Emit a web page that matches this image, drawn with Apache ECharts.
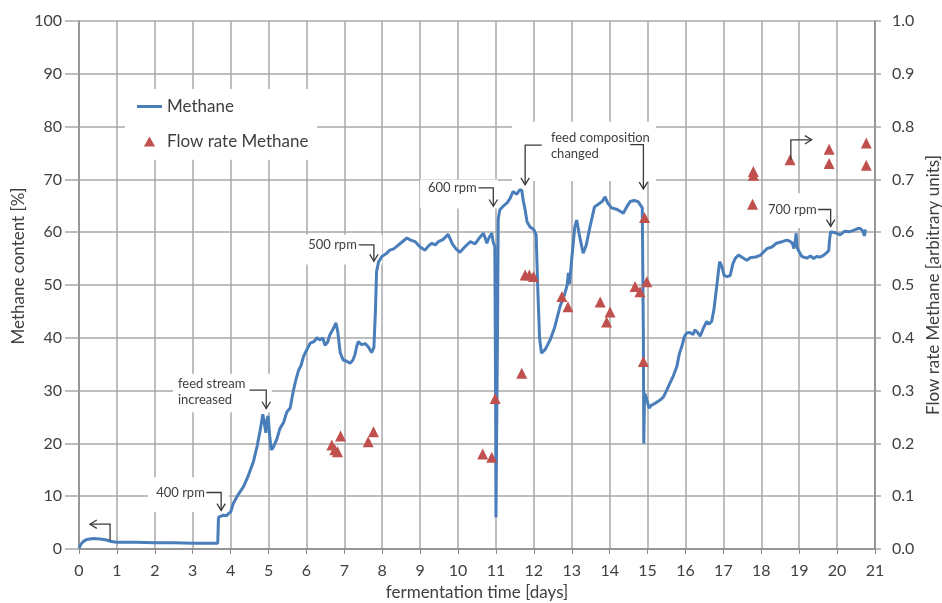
<!DOCTYPE html>
<html><head><meta charset="utf-8">
<script src="https://cdn.jsdelivr.net/npm/echarts@6/dist/echarts.min.js"></script>
<style>html,body{margin:0;padding:0;background:#fff}#c{width:942px;height:603px}</style>
</head><body><div id="c"></div>
<script>
// ---- data ----
const methaneDays = [0,0.05,0.11,0.2,0.38,0.55,0.73,0.85,1.0,1.5,2.0,2.5,3.0,3.4,3.66,3.68,3.72,3.81,3.9,3.94,4.0,4.07,4.2,4.34,4.45,4.6,4.7,4.78,4.85,4.9,4.93,4.96,4.99,5.03,5.07,5.12,5.22,5.3,5.4,5.48,5.57,5.65,5.72,5.79,5.86,5.92,6.0,6.1,6.2,6.28,6.36,6.43,6.49,6.56,6.62,6.7,6.78,6.83,6.89,6.97,7.05,7.15,7.22,7.28,7.33,7.37,7.45,7.55,7.63,7.72,7.78,7.82,7.85,7.9,7.99,8.1,8.2,8.29,8.4,8.5,8.65,8.75,8.87,9.0,9.13,9.22,9.31,9.4,9.48,9.6,9.74,9.85,9.95,10.05,10.15,10.32,10.45,10.55,10.67,10.72,10.76,10.82,10.89,10.93,10.97,10.99,11.0,11.02,11.04,11.06,11.1,11.2,11.3,11.38,11.45,11.55,11.62,11.68,11.72,11.77,11.82,11.9,12.0,12.06,12.1,12.15,12.2,12.3,12.43,12.55,12.69,12.8,12.88,12.91,12.94,13.0,13.08,13.13,13.2,13.3,13.38,13.48,13.6,13.7,13.8,13.88,13.95,14.05,14.2,14.36,14.45,14.54,14.65,14.75,14.8,14.86,14.89,14.9,14.92,14.96,15.0,15.04,15.1,15.2,15.33,15.42,15.5,15.59,15.68,15.77,15.84,15.9,15.97,16.03,16.12,16.2,16.25,16.32,16.39,16.47,16.56,16.62,16.69,16.75,16.82,16.9,16.96,17.02,17.1,17.18,17.25,17.31,17.4,17.5,17.62,17.72,17.85,17.97,18.08,18.15,18.28,18.4,18.55,18.67,18.75,18.82,18.86,18.9,18.92,18.95,19.0,19.07,19.2,19.3,19.38,19.46,19.55,19.64,19.72,19.78,19.8,19.83,19.95,20.08,20.2,20.34,20.45,20.55,20.61,20.68,20.72,20.75];
const methaneValues = [0.2,0.9,1.4,1.8,2.0,1.9,1.7,1.4,1.3,1.3,1.2,1.2,1.1,1.1,1.1,6.0,6.3,6.4,6.3,6.7,7.0,8.6,10.3,11.8,13.6,16.5,19.5,22.5,25.5,25.7,22.0,24.5,25.2,21.5,18.8,19.2,20.8,22.8,24.0,25.9,26.7,29.8,32.0,33.8,34.8,36.4,37.6,39.0,39.3,40.0,39.6,40.0,38.6,39.2,40.6,41.6,42.8,41.0,37.2,35.8,35.6,35.2,35.7,36.8,38.5,39.3,38.7,38.9,38.3,37.2,38.2,45,52.5,54.3,55.4,55.9,56.6,56.8,57.4,58.0,58.9,58.5,58.2,57.2,56.6,57.4,57.9,57.6,58.2,58.6,59.6,57.8,56.8,56.2,57.0,58.2,57.8,58.8,59.8,58.8,57.9,59.0,59.8,58.0,57.3,30,6.0,6.0,40,62.5,64.2,65.0,65.6,66.5,67.7,67.2,68.0,68.0,66.0,64.2,62.0,61.0,60.5,59.5,50,40,37.1,37.8,39.6,42.0,45.9,48.0,50.0,52.3,50.2,55,61,62.3,59.5,56.0,57.5,61.0,64.8,65.3,65.8,66.7,65.5,64.6,64.3,63.6,64.8,65.8,66.0,65.8,65.8,64.6,40,20.0,29.5,28.8,28.5,26.7,27.2,27.6,28.2,28.8,30.0,31.4,32.8,34.5,37.0,38.3,40.2,40.9,41.0,40.6,41.5,41.0,40.3,41.8,43.1,42.6,43.1,45.3,49.5,54.4,53.5,51.8,51.6,51.8,54.0,55.0,55.7,55.2,54.7,55.2,55.3,55.6,56.4,56.9,57.2,57.9,58.2,58.5,58.3,57.9,56.9,58.5,59.8,57.0,56.3,55.4,55.1,55.5,55.0,55.4,55.3,55.6,56.1,56.5,58.5,60.1,59.9,59.5,60.2,60.1,60.4,60.7,60.7,60.2,59.3,60.5];
const flowDays = [6.67,6.75,6.82,6.9,7.63,7.77,10.65,10.89,10.98,11.68,11.77,11.88,11.99,12.74,12.9,13.75,13.92,14.01,14.67,14.8,14.89,14.92,14.98,17.77,17.79,17.79,18.76,19.79,19.79,20.77,20.77];
const flowValues = [0.197,0.188,0.184,0.214,0.203,0.222,0.18,0.174,0.285,0.333,0.519,0.519,0.516,0.478,0.459,0.468,0.43,0.449,0.497,0.487,0.355,0.628,0.506,0.653,0.708,0.715,0.737,0.73,0.757,0.727,0.769];

// ---- annotations (in left-axis data coordinates) ----
const annotations = [
  {lines:['400 rpm'], at:[3.32,10.7], align:'right', path:[[3.36,10.7],[3.75,10.7],[3.75,7.3]]},
  {lines:['feed stream','increased'], at:[2.61,29.8], align:'left', path:[[4.5,30.1],[4.94,30.1],[4.94,26.6]]},
  {lines:['500 rpm'], at:[7.33,57.6], align:'right', path:[[7.38,57.6],[7.78,57.6],[7.78,54.5]]},
  {lines:['600 rpm'], at:[10.49,68.4], align:'right', path:[[10.54,68.4],[10.93,68.4],[10.93,64.9]]},
  {lines:['feed composition','changed'], at:[12.45,76.35], align:'left', path:[[12.21,76.5],[11.77,76.5],[11.77,69.0]]},
  {lines:[], at:null, path:[[14.54,76.6],[14.89,76.6],[14.89,68.2]]},
  {lines:['700 rpm'], at:[19.46,64.3], align:'right', path:[[19.5,64.3],[19.83,64.3],[19.83,61.1]]},
  {lines:[], at:null, path:[[0.82,1.6],[0.82,4.7],[0.29,4.7]]},
  {lines:[], at:null, path:[[18.78,73.7],[18.78,77.5],[19.33,77.5]]}
];
const masks = [
  [[1.21,87.1],[6.28,73.7]],
  [[1.82,13.6],[3.95,7.0]],
  [[2.48,33.2],[5.09,25.9]],
  [[5.6,59.5],[8.0,53.9]],
  [[9.0,70],[11.05,64.5]],
  [[11.42,80.9],[15.22,69.7]],
  [[18.1,67.4],[19.95,60.8]]
];

const FONT = 'Lato';
const TXT = '#404040';
const GRIDC = '#a8a8a8';
const AXC = '#8a8a8a';

const chart = echarts.init(document.getElementById('c'));
chart.setOption({
  animation:false,
  textStyle:{fontFamily:FONT},
  grid:{left:79,right:67,top:21,bottom:54,containLabel:false,outerBoundsMode:'none'},
  legend:{orient:'vertical',left:137,top:98,itemWidth:25,itemHeight:10,itemGap:18,padding:0,symbolKeepAspect:true,
    textStyle:{fontSize:17,color:TXT,fontFamily:FONT},
    data:[{name:'Methane',icon:'path://M0,0h25v3h-25z'},{name:'Flow rate Methane',icon:'path://M5,0L10,9L0,9Z'}]},
  xAxis:{type:'value',min:0,max:21,interval:1,name:'fermentation time [days]',nameLocation:'middle',nameGap:34,
    nameTextStyle:{fontSize:17,color:TXT,fontFamily:FONT},
    axisLine:{lineStyle:{color:AXC,width:1.5}},axisTick:{show:true,length:5,lineStyle:{color:AXC}},
    axisLabel:{fontSize:16,color:TXT,margin:14,fontFamily:FONT},
    splitLine:{show:true,lineStyle:{color:GRIDC,width:1.5}}},
  yAxis:[
    {type:'value',min:0,max:100,interval:10,position:'left',
     axisLine:{show:true,lineStyle:{color:AXC,width:1.5}},axisTick:{show:true,length:14,lineStyle:{color:GRIDC,width:1.5}},
     axisLabel:{fontSize:16,color:TXT,margin:17,fontFamily:FONT},
     splitLine:{show:true,lineStyle:{color:GRIDC,width:1.5}}},
    {type:'value',min:0,max:1,interval:0.1,position:'right',name:'Flow rate Methane [arbitrary units]',
     nameLocation:'middle',nameRotate:90,nameGap:48,nameTextStyle:{fontSize:17,color:TXT,fontFamily:FONT},
     axisLine:{show:true,lineStyle:{color:AXC,width:1.5}},axisTick:{show:true,length:6,lineStyle:{color:GRIDC,width:1.5}},
     axisLabel:{fontSize:16,color:TXT,margin:17,fontFamily:FONT,formatter:v=>v.toFixed(1)},
     splitLine:{show:false}}
  ],
  series:[
    {name:'Methane',type:'line',symbol:'none',showSymbol:false,z:3,
     data:methaneDays.map((d,i)=>[d,methaneValues[i]]),
     lineStyle:{color:'#4A7EBB',width:3},itemStyle:{color:'#4A7EBB'}},
    {name:'Flow rate Methane',type:'scatter',yAxisIndex:1,symbol:'triangle',symbolSize:11,z:4,
     data:flowDays.map((d,i)=>[d,flowValues[i]]),itemStyle:{color:'#C0504D',opacity:1}}
  ]
});

function px(p){return chart.convertToPixel({xAxisIndex:0,yAxisIndex:0},p);}
const g = [];
masks.forEach(m=>{
  const a=px(m[0]), b=px(m[1]);
  g.push({type:'rect',z:1,silent:true,shape:{x:Math.min(a[0],b[0]),y:Math.min(a[1],b[1]),width:Math.abs(b[0]-a[0]),height:Math.abs(b[1]-a[1])},style:{fill:'#fff'}});
});
annotations.forEach(an=>{
  const pts = an.path.map(px);
  g.push({type:'polyline',z:5,silent:true,shape:{points:pts},style:{stroke:'#3a3a3a',lineWidth:1.3,fill:null}});
  const n=pts.length, e=pts[n-1], s=pts[n-2];
  const ang=Math.atan2(e[1]-s[1],e[0]-s[0]), L=8, w=0.55;
  const h1=[e[0]-L*Math.cos(ang-w),e[1]-L*Math.sin(ang-w)];
  const h2=[e[0]-L*Math.cos(ang+w),e[1]-L*Math.sin(ang+w)];
  g.push({type:'polyline',z:5,silent:true,shape:{points:[h1,e,h2]},style:{stroke:'#3a3a3a',lineWidth:1.3,fill:null}});
  if(an.at){
    const p=px(an.at);
    g.push({type:'text',z:5,silent:true,x:p[0],y:p[1],style:{text:an.lines.join('\n'),fill:TXT,fontSize:13,fontFamily:FONT,lineHeight:16,align:an.align,verticalAlign:'middle'}});
  }
});
g.push({type:'text',z:5,silent:true,x:19,y:266,rotation:Math.PI/2,style:{text:'Methane content [%]',fill:TXT,fontSize:17,fontFamily:FONT,align:'center',verticalAlign:'middle'}});
chart.setOption({graphic:g});
</script></body></html>
